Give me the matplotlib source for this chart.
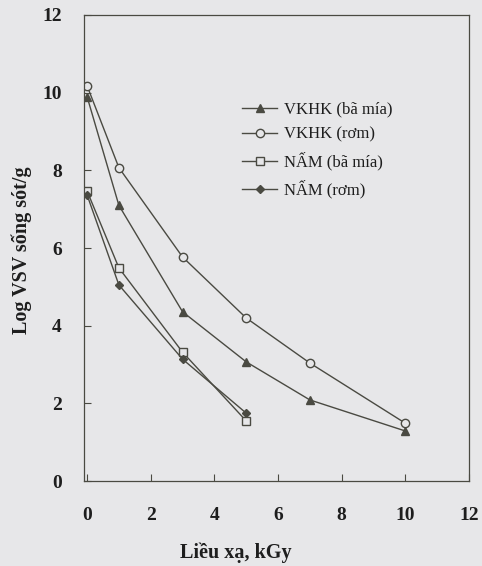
import numpy as np
import matplotlib
matplotlib.use('Agg')
import matplotlib.pyplot as plt

plt.rcParams['font.family'] = ['Liberation Serif', 'DejaVu Serif']

# doses (kGy) and log survivors per series
dose_vkhk = [0, 1, 3, 5, 7, 10]
vkhk_bamia = [9.9, 7.1, 4.36, 3.07, 2.09, 1.29]
vkhk_rom = [10.18, 8.07, 5.77, 4.2, 3.04, 1.49]
dose_nam = [0, 1, 3, 5]
nam_bamia = [7.47, 5.49, 3.32, 1.55]
nam_rom = [7.37, 5.05, 3.14, 1.75]

labels = ['VKHK (bã mía)', 'VKHK (rơm)', 'NẤM (bã mía)', 'NẤM (rơm)']
xticks = [0, 2, 4, 6, 8, 10, 12]
yticks = [0, 2, 4, 6, 8, 10, 12]

bg = '#e7e7e9'
lc = '#4a4a42'
tc = '#1e1e1e'

fig = plt.figure(figsize=(4.82, 5.66), dpi=100, facecolor=bg)
ax = fig.add_axes([0.174, 0.150, 0.799, 0.8235], facecolor=bg)

ax.plot(dose_vkhk, vkhk_bamia, color=lc, lw=1.0, marker='^', ms=5.5,
        mfc=lc, mec=lc, label=labels[0])
ax.plot(dose_vkhk, vkhk_rom, color=lc, lw=1.0, marker='o', ms=6,
        mfc=bg, mec=lc, mew=1.0, label=labels[1])
ax.plot(dose_nam, nam_bamia, color=lc, lw=1.0, marker='s', ms=6,
        mfc=bg, mec=lc, mew=1.0, label=labels[2])
ax.plot(dose_nam, nam_rom, color=lc, lw=1.0, marker='D', ms=4,
        mfc=lc, mec=lc, label=labels[3])

ax.set_xlim(-0.1, 12)
ax.set_ylim(0, 12)
ax.set_xticks(xticks)
ax.set_yticks(yticks)
ax.tick_params(direction='in', length=5, width=0.8, color=lc,
               labelsize=14, labelcolor=tc)
ax.tick_params(axis='x', pad=19)
ax.tick_params(axis='y', pad=16)
for lab in ax.get_xticklabels() + ax.get_yticklabels():
    lab.set_fontweight('bold')
for s in ax.spines.values():
    s.set_color(lc)
    s.set_linewidth(0.9)

fig.text(236 / 482, 1 - 553 / 566, 'Liều xạ, kGy', fontsize=14.5,
         fontweight='bold', color=tc, ha='center', va='center')
fig.text(22 / 482, 1 - 250 / 566, 'Log VSV sống sót/g', fontsize=14.5,
         fontweight='bold', color=tc, ha='center', va='center', rotation=90)

leg = ax.legend(loc='upper left', bbox_to_anchor=(0.39, 0.832), frameon=False,
                fontsize=12, handlelength=2.1, handletextpad=0.4,
                labelspacing=0.55, borderpad=0)
for t in leg.get_texts():
    t.set_color(tc)

fig.savefig('out.png', dpi=100, facecolor=bg)
